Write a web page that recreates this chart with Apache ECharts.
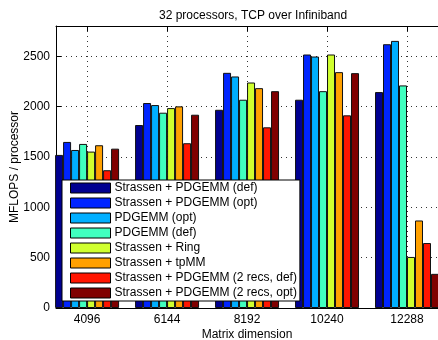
<!DOCTYPE html>
<html>
<head>
<meta charset="utf-8">
<script src="https://cdn.jsdelivr.net/npm/echarts@6/dist/echarts.min.js"></script>
<style>html,body{margin:0;padding:0;background:#fff}#c{width:438px;height:340px}</style>
</head>
<body>
<div id="c"></div>
<script>
const titleText = '32 processors, TCP over Infiniband';
const xName = 'Matrix dimension';
const yName = 'MFLOPS / processor';
const matrixDims = [4096, 6144, 8192, 10240, 12288];
const yTicks = [0, 500, 1000, 1500, 2000, 2500];
const seriesNames = [
  'Strassen + PDGEMM (def)',
  'Strassen + PDGEMM (opt)',
  'PDGEMM (opt)',
  'PDGEMM (def)',
  'Strassen + Ring',
  'Strassen + tpMM',
  'Strassen + PDGEMM (2 recs, def)',
  'Strassen + PDGEMM (2 recs, opt)'
];
const strassenPdgemmDef   = [1520, 1817, 1968, 2068, 2144];
const strassenPdgemmOpt   = [1649, 2035, 2335, 2517, 2619];
const pdgemmOpt           = [1569, 2015, 2299, 2497, 2652];
const pdgemmDef           = [1629, 1939, 2068, 2153, 2210];
const strassenRing        = [1553, 1985, 2239, 2517, 507];
const strassenTpmm        = [1616, 2002, 2183, 2342, 869];
const strassen2RecsDef    = [1368, 1636, 1794, 1913, 645];
const strassen2RecsOpt    = [1582, 1919, 2153, 2332, 339];
const allValues = [strassenPdgemmDef, strassenPdgemmOpt, pdgemmOpt, pdgemmDef,
                   strassenRing, strassenTpmm, strassen2RecsDef, strassen2RecsOpt];
const colors = ['#000090', '#0025FF', '#00AFFF', '#40FFBF', '#D0FF2F', '#FFA000', '#FF1500', '#800000'];

const font = 'Liberation Sans, Arial, Helvetica, sans-serif';
const chart = echarts.init(document.getElementById('c'), null, {renderer: 'canvas'});

const series = seriesNames.map((name, i) => ({
  name: name,
  type: 'bar',
  data: matrixDims.map((d, j) => [d, allValues[i][j]]),
  barGap: '0%',
  barCategoryGap: '20%',
  clip: true,
  itemStyle: {color: colors[i], borderColor: '#111', borderWidth: 1},
  emphasis: {disabled: true}
}));

const xMin = 3300, xMax = 13312;
const plain = v => String(v);

chart.setOption({
  animation: false,
  textStyle: {fontFamily: font},
  title: {
    text: titleText, left: 154, top: 5,
    textStyle: {fontSize: 12, fontWeight: 'normal', color: '#000', fontFamily: font}
  },
  grid: {left: 56, right: -9, top: 26, bottom: 32, containLabel: false, outerBoundsMode: 'none'},
  legend: {
    orient: 'vertical', left: 62, top: 180,
    padding: [2, 3, 2, 8],
    itemWidth: 40, itemHeight: 10, itemGap: 3,
    icon: 'rect',
    backgroundColor: '#fff', borderColor: '#000', borderWidth: 1,
    itemStyle: {borderColor: '#000', borderWidth: 1},
    textStyle: {fontSize: 12, color: '#000', fontFamily: font, lineHeight: 12, padding: [0, 0, 0, -1]},
    data: seriesNames,
    selectedMode: false
  },
  xAxis: [{
    type: 'value', min: xMin, max: xMax,
    name: xName, nameLocation: 'middle', nameGap: 21, nameMoveOverlap: false,
    nameTextStyle: {fontSize: 12, color: '#000', fontFamily: font, padding: [0, 9, 0, 0]},
    axisLine: {show: true, lineStyle: {color: '#000', width: 1}},
    axisTick: {show: true, inside: true, length: 5, lineStyle: {color: '#000'}, customValues: matrixDims},
    axisLabel: {fontSize: 12, color: '#000', margin: 6, fontFamily: font, customValues: matrixDims, formatter: plain},
    splitLine: {show: true, lineStyle: {color: '#333', type: [1, 4], width: 1}}
  }, {
    type: 'value', min: xMin, max: xMax, position: 'top',
    axisLine: {show: true, onZero: false, lineStyle: {color: '#000', width: 1}},
    axisTick: {show: true, inside: true, length: 5, lineStyle: {color: '#000'}, customValues: matrixDims},
    axisLabel: {show: false},
    splitLine: {show: false}
  }],
  yAxis: {
    type: 'value', min: 0, max: 2800,
    name: yName, nameLocation: 'middle', nameGap: 35, nameRotate: 90, nameMoveOverlap: false,
    nameTextStyle: {fontSize: 12, color: '#000', fontFamily: font},
    axisLine: {show: true, lineStyle: {color: '#000', width: 1}},
    axisTick: {show: true, inside: true, length: 5, lineStyle: {color: '#000'}, customValues: yTicks},
    axisLabel: {fontSize: 12, color: '#000', margin: 6, fontFamily: font, customValues: yTicks, formatter: plain},
    splitLine: {show: true, lineStyle: {color: '#333', type: [1, 4], width: 1}}
  },
  series: series
});
</script>
</body>
</html>
